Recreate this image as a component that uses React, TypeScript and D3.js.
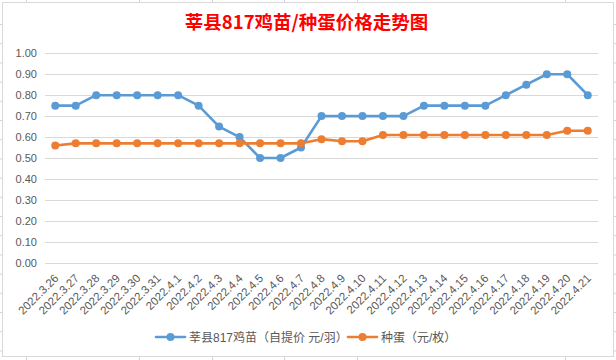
import React from "react";
import * as d3 from "d3";

const categories = [
  "2022.3.26","2022.3.27","2022.3.28","2022.3.29","2022.3.30","2022.3.31",
  "2022.4.1","2022.4.2","2022.4.3","2022.4.4","2022.4.5","2022.4.6","2022.4.7",
  "2022.4.8","2022.4.9","2022.4.10","2022.4.11","2022.4.12","2022.4.13","2022.4.14",
  "2022.4.15","2022.4.16","2022.4.17","2022.4.18","2022.4.19","2022.4.20","2022.4.21",
];
const chickPrice = [
  0.75,0.75,0.80,0.80,0.80,0.80,0.80,0.75,0.65,0.60,0.50,0.50,0.55,
  0.70,0.70,0.70,0.70,0.70,0.75,0.75,0.75,0.75,0.80,0.85,0.90,0.90,0.80,
];
const eggPrice = [
  0.56,0.57,0.57,0.57,0.57,0.57,0.57,0.57,0.57,0.57,0.57,0.57,0.57,
  0.59,0.58,0.58,0.61,0.61,0.61,0.61,0.61,0.61,0.61,0.61,0.61,0.63,0.63,
];
const yTicks = [0,0.1,0.2,0.3,0.4,0.5,0.6,0.7,0.8,0.9,1.0];
const seriesNames = ["莘县817鸡苗（自提价 元/羽）", "种蛋（元/枚）"];
const seriesColors = ["#5B9BD5", "#ED7D31"];
const title = "莘县817鸡苗/种蛋价格走势图";

const W = 616, H = 360;
const plot = { left: 45, right: 598, top: 53.3, bottom: 262.7 };
const font = "'Liberation Sans', 'Noto Sans CJK SC', sans-serif";

export default function App() {
  const x = d3.scaleBand<string>().domain(categories).range([plot.left, plot.right]);
  const y = d3.scaleLinear().domain([0, 1]).range([plot.bottom, plot.top]);
  const cx = (c: string) => (x(c) as number) + x.bandwidth() / 2;
  const line = d3.line<number>().x((_, i) => cx(categories[i])).y((d) => y(d));
  const series = [chickPrice, eggPrice];

  const rowYs = d3.range(24, 360, 19.2);
  const colXs = [26, 139, 212, 284, 357, 565];

  return (
    <svg width={W} height={H} style={{ position: "fixed", left: 0, top: 0, background: "#fff" }}>
      {/* spreadsheet grid behind the chart */}
      {rowYs.map((ry, i) => (
        <g key={"r" + i}>
          <line x1={0} x2={2.5} y1={ry + 0.5} y2={ry + 0.5} stroke="#d4d4d4" />
          <line x1={613.5} x2={616} y1={ry + 0.5} y2={ry + 0.5} stroke="#d4d4d4" />
        </g>
      ))}
      {colXs.map((c, i) => (
        <g key={"c" + i}>
          <line x1={c + 0.5} x2={c + 0.5} y1={0} y2={2.5} stroke="#d4d4d4" />
          <line x1={c + 0.5} x2={c + 0.5} y1={356.5} y2={360} stroke="#d4d4d4" />
        </g>
      ))}
      <rect x={2.5} y={2.5} width={611} height={354} fill="#fff" stroke="#d9d9d9" />

      <text x={306.5} y={29} textAnchor="middle" fontFamily="'Noto Sans CJK SC', sans-serif"
        fontWeight="bold" fontSize={18.5} fill="#FF0000">{title}</text>

      {yTicks.map((t) => (
        <g key={t}>
          <line x1={plot.left} x2={plot.right} y1={Math.round(y(t)) + 0.5} y2={Math.round(y(t)) + 0.5}
            stroke="#d9d9d9" strokeWidth={1} />
          <text x={37} y={y(t) + 4} textAnchor="end" fontFamily={font} fontSize={11} fill="#595959">
            {t.toFixed(2)}
          </text>
        </g>
      ))}

      {categories.map((c) => (
        <text key={c} transform={`translate(${cx(c) + 4},${279}) rotate(-45)`} textAnchor="end"
          fontFamily={font} fontSize={11.5} fill="#595959">{c}</text>
      ))}

      {series.map((s, si) => (
        <g key={si}>
          <path d={line(s) || ""} fill="none" stroke={seriesColors[si]} strokeWidth={2.6}
            strokeLinejoin="round" strokeLinecap="round" />
          {s.map((v, i) => (
            <circle key={i} cx={cx(categories[i])} cy={y(v)} r={4} fill={seriesColors[si]} />
          ))}
        </g>
      ))}

      {/* legend */}
      {[{ lx: 156, tx: 189 }, { lx: 348, tx: 381 }].map((p, i) => (
        <g key={i}>
          <line x1={p.lx} x2={p.lx + 29} y1={337} y2={337} stroke={seriesColors[i]} strokeWidth={2.6}
            strokeLinecap="round" />
          <circle cx={p.lx + 14.5} cy={337} r={4} fill={seriesColors[i]} />
          <text x={p.tx} y={341.5} fontFamily={font} fontSize={12} fill="#595959">{seriesNames[i]}</text>
        </g>
      ))}
    </svg>
  );
}
